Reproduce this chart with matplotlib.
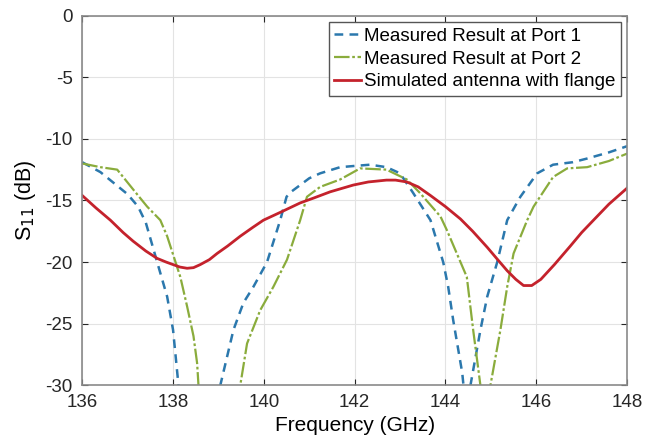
import numpy as np
import matplotlib
matplotlib.use("Agg")
import matplotlib.pyplot as plt

plt.rcParams["font.family"] = ["Liberation Sans", "DejaVu Sans"]
plt.rcParams["axes.unicode_minus"] = False

# Measured at port 1 (values below -30 are clipped by the axis)
freq_p1 = [136.0, 136.4, 137.0, 137.23, 137.4, 137.65, 137.87, 138.0, 138.12, 138.4,
           138.8, 139.04, 139.33, 139.55, 139.77, 140.07, 140.36, 140.5, 140.6, 141.0,
           141.24, 141.68, 142.0, 142.34, 142.7, 143.0, 143.29, 143.67, 143.95, 144.06,
           144.17, 144.37, 144.45, 144.55, 144.77, 144.92, 145.14, 145.36, 145.65,
           146.02, 146.37, 146.8, 147.12, 147.6, 148.0]
s11_p1 = [-11.9, -12.7, -14.5, -15.5, -16.8, -20.0, -22.8, -25.5, -30.0, -34.0,
          -34.0, -30.0, -25.5, -23.3, -22.0, -20.0, -16.6, -14.7, -14.3, -13.2,
          -12.8, -12.3, -12.2, -12.1, -12.3, -12.8, -14.4, -16.6, -20.0, -22.0,
          -24.7, -29.0, -32.0, -30.0, -25.5, -22.8, -20.0, -16.6, -14.7,
          -12.8, -12.1, -11.9, -11.6, -11.1, -10.6]

# Measured at port 2
freq_p2 = [136.0, 136.4, 136.77, 137.12, 137.43, 137.72, 137.87, 138.16, 138.31, 138.45,
           138.53, 138.56, 138.9, 139.3, 139.48, 139.63, 139.92, 140.21, 140.51, 140.8,
           140.95, 141.24, 141.46, 141.68, 142.12, 142.7, 143.15, 143.44, 143.89, 144.03,
           144.47, 144.61, 144.77, 144.85, 144.99, 145.21, 145.36, 145.5, 145.8,
           145.94, 146.37, 146.68, 147.12, 147.6, 148.0]
s11_p2 = [-12.0, -12.3, -12.5, -14.1, -15.5, -16.6, -17.9, -21.2, -23.6, -26.0,
          -28.2, -30.0, -34.0, -34.0, -30.0, -26.6, -23.9, -22.0, -19.8, -16.6,
          -14.7, -13.9, -13.6, -13.3, -12.4, -12.5, -13.3, -14.4, -16.3, -17.4,
          -21.2, -25.5, -30.0, -32.0, -30.0, -25.5, -22.0, -19.3, -16.6,
          -15.5, -13.1, -12.4, -12.3, -11.8, -11.2]

# Simulated antenna with flange
freq_sim = [136.0, 136.3, 136.62, 136.9, 137.12, 137.4, 137.65, 137.85, 138.0, 138.15,
            138.31, 138.45, 138.6, 138.8, 138.97, 139.2, 139.48, 139.75, 139.99, 140.4,
            140.8, 141.1, 141.46, 141.97, 142.3, 142.7, 142.9, 143.15, 143.4, 143.67,
            144.0, 144.33, 144.6, 144.92, 145.15, 145.36, 145.55, 145.72, 145.9, 146.1,
            146.4, 146.75, 147.0, 147.26, 147.6, 148.0]
s11_sim = [-14.6, -15.6, -16.6, -17.6, -18.3, -19.1, -19.7, -20.0, -20.2, -20.4,
           -20.5, -20.45, -20.2, -19.8, -19.3, -18.7, -17.9, -17.2, -16.6, -15.9,
           -15.2, -14.8, -14.3, -13.75, -13.5, -13.35, -13.35, -13.5, -13.9, -14.6,
           -15.5, -16.5, -17.5, -18.8, -19.8, -20.7, -21.4, -21.9, -21.9, -21.4,
           -20.2, -18.7, -17.6, -16.6, -15.3, -14.0]

fig, ax = plt.subplots(figsize=(6.58, 4.43), dpi=100)
fig.subplots_adjust(left=0.125, right=0.953, top=0.965, bottom=0.13)

ax.plot(freq_p1, s11_p1, linestyle=(0, (3.5, 2.5)), color="#2b78ad", linewidth=1.8,
        label="Measured Result at Port 1")
ax.plot(freq_p2, s11_p2, linestyle=(0, (7, 1.2, 1.2, 1.2)), color="#8aac3c",
        linewidth=1.6, label="Measured Result at Port 2")
ax.plot(freq_sim, s11_sim, linestyle="-", color="#c4222c", linewidth=2.0,
        label="Simulated antenna with flange")

ax.set_xlim(136, 148)
ax.set_ylim(-30, 0)
ax.set_xticks(np.arange(136, 149, 2))
ax.set_yticks(np.arange(-30, 1, 5))
ax.grid(True, color="#e3e3e3", linewidth=0.8)
ax.tick_params(direction="in", top=True, right=True, labelsize=13.5, colors="#262626",
               length=4)
ax.tick_params(axis="x", pad=6)
ax.tick_params(axis="y", pad=7)
for s in ax.spines.values():
    s.set_color("#8a8a8a")
    s.set_linewidth(1.2)

ax.set_xlabel("Frequency (GHz)", fontsize=15, labelpad=4)
ax.set_ylabel("S$_{11}$ (dB)", fontsize=15.5, labelpad=5)

leg = ax.legend(loc="upper right", fontsize=13.5, fancybox=False, handlelength=1.4,
                handletextpad=0.15, borderpad=0.3, labelspacing=0.3,
                borderaxespad=0.35, framealpha=1)
leg.get_frame().set_edgecolor("#555555")
leg.get_frame().set_linewidth(1.0)

fig.savefig("out.png", dpi=100)
